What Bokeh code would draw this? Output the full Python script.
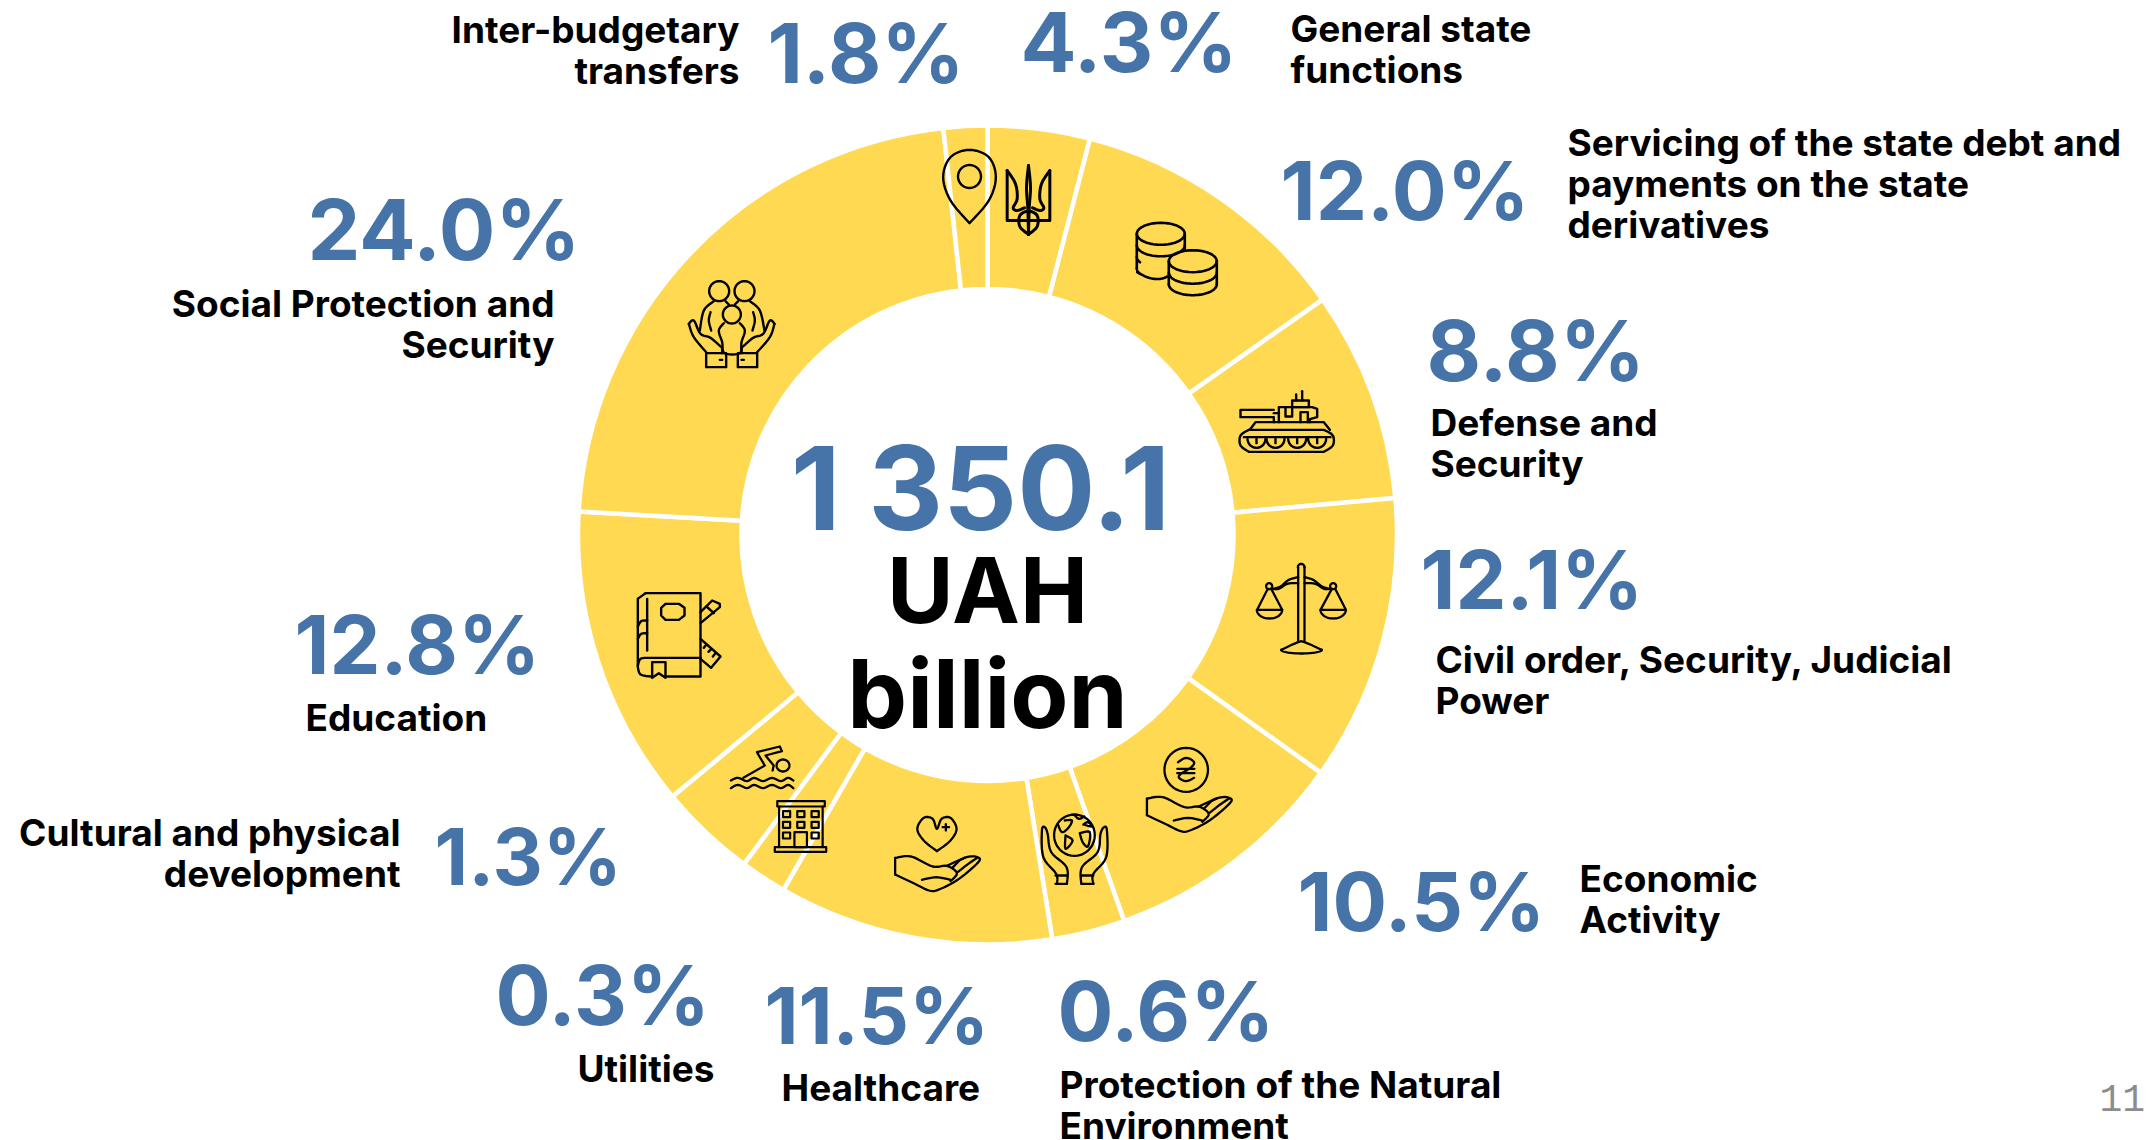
import math
from bokeh.plotting import figure
from bokeh.models import Range1d, ColumnDataSource
from bokeh.embed import file_html
from bokeh.resources import INLINE
from bokeh.core.properties import value

# ---- data ----
categories = ["General state functions", "Servicing of the state debt and payments on the state derivatives",
              "Defense and Security", "Civil order, Security, Judicial Power", "Economic Activity",
              "Protection of the Natural Environment", "Healthcare", "Utilities",
              "Cultural and physical development", "Education", "Social Protection and Security",
              "Inter-budgetary transfers"]
pct_labels = ["4.3%", "12.0%", "8.8%", "12.1%", "10.5%", "0.6%", "11.5%", "0.3%", "1.3%", "12.8%", "24.0%", "1.8%"]
# the reference's slices are not drawn to scale: swept degrees
sweep_deg = [14.5, 40.4, 29.9, 40.7, 35.0, 10.4, 39.0, 6.6, 13.8, 43.0, 80.5, 6.2]
total_value = "1 350.1"
total_unit = ["UAH", "billion"]
page_number = "11"

BLUE = "#4673A8"
YELLOW = "#FFD952"
FONT = "Inter"
W, H = 2156, 1140
CX, CY, R_OUT, R_IN = 987.0, 534.5, 407.5, 248.0


def Y(v):
    return H - v


p = figure(width=W, height=H, output_backend="svg", toolbar_location=None,
           x_range=Range1d(0, W), y_range=Range1d(0, H), min_border=0)
p.axis.visible = False
p.grid.visible = False
p.outline_line_color = None
p.background_fill_color = "white"

# ---- donut ----
starts, ends, c = [], [], 0.0
for s in sweep_deg:
    starts.append(math.radians(90 - c))
    c += s
    ends.append(math.radians(90 - c))
src = ColumnDataSource(dict(category=categories, start=starts, end=ends, label=pct_labels))
p.annular_wedge(x=CX, y=Y(CY), inner_radius=R_IN - 2, outer_radius=R_OUT + 2, start_angle="start", end_angle="end",
                direction="clock", fill_color=YELLOW, line_color="white", line_width=4.5, source=src)

K = 0.36


# ---- texts ----
def T(s, x, y, size, color="black", align="left", font=FONT, style="bold"):
    p.text([x], [Y(y - K * size)], text=[s], text_font=value(font), text_font_size=f"{size}px", text_color=color,
           text_align=align, text_baseline="alphabetic", text_font_style=style)


LS = 37
pct_sizes = [83, 81.5, 84, 81, 81, 83, 79, 82, 78, 81, 84, 82]
pct_pos = [(1020, 71), (1280, 219), (1426, 380), (1420, 609), (1297, 931), (1057, 1040),
           (764, 1043), (495, 1025), (434, 884), (294, 674), (307, 259), (767, 83)]
for lab, (x, y), s in zip(pct_labels, pct_pos, pct_sizes):
    T(lab, x, y, s, BLUE)

left_lab = [(["General state", "functions"], 1290, 41),
            (["Servicing of the state debt and", "payments on the state", "derivatives"], 1567, 155),
            (["Defense and", "Security"], 1430, 435),
            (["Civil order, Security, Judicial", "Power"], 1435, 672),
            (["Economic", "Activity"], 1579, 891),
            (["Protection of the Natural", "Environment"], 1059, 1097),
            (["Healthcare"], 781, 1100)]
right_lab = [(["Utilities"], 714, 1081),
             (["Cultural and physical", "development"], 400, 845),
             (["Social Protection and", "Security"], 554, 316),
             (["Inter-budgetary", "transfers"], 739, 42)]
for lines, x, y in left_lab:
    for i, l in enumerate(lines):
        T(l, x, y + 41 * i, LS)
T("Education", 305, 730, LS)
for lines, x, y in right_lab:
    for i, l in enumerate(lines):
        T(l, x, y + 41.5 * i, LS, align="right")

T(total_value, 980, 529, 116, BLUE, "center")
T(total_unit[0], 987, 622, 91, "black", "center")
T(total_unit[1], 987, 727, 95, "black", "center")
T(page_number, 2099, 1111, 38, "#8c8c8c", font="Liberation Mono", style="normal")


# ---- icons: decoration outlines, in page pixels ----
def sm(pts, n=6):
    """Catmull-Rom through pts"""
    out = []
    P = [pts[0]] + list(pts) + [pts[-1]]
    for i in range(1, len(P) - 2):
        for k in range(n):
            t = k / n
            a, b, c_, d = P[i - 1], P[i], P[i + 1], P[i + 2]
            f = lambda j: 0.5 * (2 * b[j] + (c_[j] - a[j]) * t + (2 * a[j] - 5 * b[j] + 4 * c_[j] - d[j]) * t * t
                                 + (3 * b[j] - a[j] - 3 * c_[j] + d[j]) * t ** 3)
            out.append((f(0), f(1)))
    out.append(pts[-1])
    return out


def arc(cx, cy, rx, ry, a0=0, a1=360, n=40):
    return [(cx + rx * math.cos(math.radians(a0 + (a1 - a0) * i / n)),
             cy + ry * math.sin(math.radians(a0 + (a1 - a0) * i / n))) for i in range(n + 1)]


def rect(x0, y0, x1, y1):
    return [(x0, y0), (x1, y0), (x1, y1), (x0, y1), (x0, y0)]


def zoomed(ox, oy, pts, fx=3.0, fy=3.0):
    return [(ox + a / fx, oy + b / fy) for a, b in pts]


def draw(paths, w=2.4):
    p.multi_line([[a for a, _ in q] for q in paths], [[Y(b) for _, b in q] for q in paths],
                 line_color="black", line_width=w, line_join="round", line_cap="round")


# pin
z = lambda pts: zoomed(900, 120, pts)
draw([arc(969, 176, 11.5, 11.5),
      z(sm([(207, 308), (150, 240), (128, 170), (150, 110), (207, 88), (265, 110), (286, 170), (265, 240), (207, 308)]))], 2.4)
# trident
draw([z([(320, 150), (320, 300), (448, 300), (448, 150)]),
      z(sm([(320, 150), (345, 190), (350, 235), (338, 262), (350, 270), (372, 262)])),
      z(sm([(448, 150), (423, 190), (418, 235), (430, 262), (418, 270), (396, 262)])),
      z(sm([(384, 135), (378, 200), (382, 265), (384, 342)])),
      z(sm([(384, 135), (390, 200), (386, 265), (384, 342)])),
      z(sm([(384, 342), (358, 318), (358, 285), (384, 272), (410, 285), (410, 318), (384, 342)])),
      z([(358, 300), (410, 300)])], 3)
# coins
paths = []
for cx, cy, tiers, clip in [(1160.3, 233.3, 3, True), (1192.3, 260.7, 2, False)]:
    paths.append(arc(cx, cy, 24, 11))
    for i in range(1, tiers + 1):
        if clip:
            paths.append(arc(cx, cy + 11.5 * i, 24, 11, 150 if i > 1 else 0, 180))
        else:
            paths.append(arc(cx, cy + 11.5 * i, 24, 11, 0, 180))
    if clip:
        paths.append([(cx - 24, cy), (cx - 24, cy + 34.5)])
        paths.append([(cx + 24, cy), (cx + 24, cy + 15)])
    else:
        paths.append([(cx - 24, cy), (cx - 24, cy + 23)])
        paths.append([(cx + 24, cy), (cx + 24, cy + 23)])
paths.append(zoomed(900, 120, sm([(808, 465), (780, 475), (745, 472), (710, 455)])))
draw(paths, 2.6)
# tank
z = lambda pts: zoomed(900, 120, pts)
paths = [z(sm([(1045, 928), (1020, 945), (1020, 975), (1045, 994)], 4) + [(1045, 994), (1270, 994)] +
           sm([(1270, 994), (1297, 975), (1297, 945), (1270, 928)], 4) + [(1045, 928)]),
         z([(1048, 928), (1065, 905), (1270, 905), (1288, 928)]), z([(1030, 950), (1290, 950)]),
         z([(1135, 905), (1135, 860), (1235, 860), (1250, 865), (1250, 890), (1228, 896), (1228, 905)]),
         z([(1120, 868), (1020, 868), (1020, 890), (1120, 890), (1120, 905)]),
         z([(1120, 878), (1135, 878)]),
         z(rect(1175, 840, 1225, 860)), z([(1205, 812), (1205, 840)]), z([(1187, 822), (1187, 840)]),
         z([(1155, 862), (1155, 888), (1175, 888), (1175, 862)]),
         z([(1200, 905), (1200, 875), (1222, 875), (1222, 905)])]
for wx in [1068, 1125, 1190, 1250]:
    paths.append(z([(wx + 27 * math.cos(math.radians(a)), 955 + 27 * math.sin(math.radians(a))) for a in range(0, 181, 15)]))
    paths.append(z([(wx, 955), (wx, 968)]))
draw(paths, 2.4)
# family
z = lambda pts: zoomed(660, 260, pts)
draw([z(arc(176, 92, 30, 30)), z(arc(252, 92, 30, 30)), z(arc(214, 162, 27, 27)),
      z(sm([(160, 122), (130, 150), (118, 210)])), z(sm([(268, 122), (298, 150), (312, 210)])),
      z(sm([(195, 122), (205, 132)])), z(sm([(233, 122), (223, 132)])),
      z(sm([(150, 155), (145, 180), (152, 210)])), z(sm([(278, 155), (283, 180), (276, 210)])),
      z(sm([(190, 188), (175, 210), (185, 245), (192, 278), (238, 278), (243, 245), (253, 210), (238, 188)])),
      z(sm([(85, 190), (100, 180), (120, 220), (150, 232), (185, 262)]) + [(185, 278)]),
      z(sm([(85, 190), (100, 230), (137, 275)])),
      z(sm([(342, 190), (328, 180), (308, 220), (278, 232), (243, 262)]) + [(243, 278)]),
      z(sm([(342, 190), (328, 230), (290, 275)])),
      z(rect(137, 278, 197, 320)), z(rect(232, 278, 290, 320)),
      z([(178, 298), (185, 298)]), z([(243, 298), (250, 298)])], 2.4)
# book
z = lambda pts: zoomed(620, 570, pts)
draw([z(sm([(75, 68), (52, 85)], 3) + [(52, 85), (52, 290)] + sm([(52, 290), (60, 312), (92, 318)], 4)),
      z([(75, 68), (240, 68), (240, 318), (135, 318)]),
      z(sm([(52, 285), (60, 265), (85, 262)], 4) + [(85, 262), (240, 262)]),
      z([(80, 85), (80, 240)]),
      z(sm([(52, 168), (62, 152), (80, 150)], 4)), z(sm([(52, 205), (62, 190), (80, 188)], 4)),
      z([(135, 100), (175, 100), (192, 112), (192, 135), (175, 148), (135, 148), (122, 135), (122, 112), (135, 100)]),
      z([(95, 275), (135, 275), (135, 322), (115, 308), (95, 322), (95, 275)]),
      z([(240, 125), (275, 90), (298, 100), (298, 110), (240, 158)]),
      z([(258, 108), (280, 128)]),
      z([(240, 205), (300, 258), (272, 292), (240, 265)]),
      z([(258, 222), (250, 232)]), z([(272, 236), (264, 244)]), z([(285, 248), (277, 258)])], 2.4)
# swimmer (this crop was read at 2.8x across, 3x down)
z = lambda pts: zoomed(700, 720, pts, 2.8, 3.0)
draw([z(arc(231, 135, 18, 18)),
      z([(120, 172), (180, 135), (158, 95), (222, 78), (228, 92), (182, 105), (205, 135), (202, 150)]),
      z(sm([(85, 180), (105, 172), (130, 182), (150, 172), (175, 182), (200, 172), (225, 182), (245, 172), (260, 180)])),
      z(sm([(85, 203), (105, 193), (130, 203), (150, 193), (175, 203), (200, 193), (225, 203), (245, 193), (260, 203)]))], 2.3)
# building
paths = [z(rect(215, 242, 348, 258)), z(rect(208, 380, 352, 394)), z([(220, 258), (220, 380)]), z([(342, 258), (342, 380)]),
         z(rect(263, 335, 298, 380))]
for wx in (231, 271, 311):
    for wy in (272, 304):
        paths.append(z(rect(wx, wy, wx + 20, wy + 18)))
paths += [z(rect(231, 336, 251, 354)), z(rect(311, 336, 331, 354))]
draw(paths, 2.2)


# hand shared by two icons
def hand(dx, dy):
    zz = lambda pts: [(a + dx, b + dy) for a, b in z(pts)]
    return [zz(sm([(545, 412), (590, 408), (650, 438), (690, 436), (718, 458), (700, 482)])),
            zz([(545, 412), (545, 462)]),
            zz(sm([(545, 462), (600, 490), (640, 510), (665, 508), (720, 478), (778, 425), (775, 410), (745, 410), (690, 436)])),
            zz(sm([(620, 478), (660, 470), (700, 478)], 4)),
            zz([(705, 442), (725, 420), (740, 412)]),
            zz(sm([(720, 455), (750, 430), (775, 412)], 4))]


# heart + hand
draw(hand(0, 0) + [z(sm([(662, 392), (625, 360), (607, 325), (625, 292), (650, 295), (662, 325), (675, 295), (700, 292),
                         (717, 325), (700, 360), (662, 392)])),
                   z([(678, 320), (696, 320)]), z([(687, 311), (687, 330)])], 2.3)
# hryvnia + hand
draw(hand(251.8, -59.3) + [z(arc(1360, 148, 61, 66)),
                           z(sm([(1337, 125), (1360, 112), (1382, 125), (1372, 142), (1345, 160), (1340, 172), (1360, 182), (1382, 172)])),
                           z([(1335, 145), (1383, 145)]), z([(1335, 158), (1383, 158)])], 2.3)
# globe in hands
draw([z(arc(1047, 344, 57, 62)),
      z(sm([(1000, 310), (1012, 335), (1030, 322), (1040, 300), (1020, 300)])),
      z(sm([(1022, 345), (1022, 385), (1042, 360), (1022, 345)], 4)),
      z(sm([(1062, 338), (1090, 335), (1085, 378), (1070, 365), (1062, 338)], 4)),
      z(sm([(1048, 285), (1060, 295), (1075, 288)], 4)), z(sm([(1072, 312), (1095, 318), (1085, 305), (1072, 312)], 4)),
      z(sm([(998, 490), (996, 460), (960, 410), (956, 330), (964, 320), (972, 340), (982, 395), (1025, 440), (1026, 490)])),
      z(sm([(1100, 490), (1100, 460), (1136, 410), (1138, 330), (1130, 320), (1120, 340), (1112, 395), (1068, 440), (1066, 490)])),
      z([(994, 465), (1026, 465)]), z([(994, 490), (1026, 490)]), z([(1068, 465), (1100, 465)]), z([(1068, 490), (1100, 490)])], 2.3)
# scales
z = lambda pts: zoomed(1130, 520, pts)
draw([z([(503, 360), (503, 140)]), z([(522, 360), (522, 140)]), z(arc(512, 140, 10, 10, 180, 360, 10)),
      z(sm([(503, 170), (475, 178), (450, 198), (425, 205)], 5)), z(sm([(522, 170), (548, 178), (575, 198), (600, 205)], 5)),
      z(sm([(503, 188), (470, 190), (445, 205), (425, 205)], 5)), z(sm([(522, 188), (555, 190), (580, 205), (600, 205)], 5)),
      z(arc(416, 197, 9, 9)), z(arc(608, 197, 9, 9)),
      z([(412, 205), (380, 268), (455, 268), (422, 205)]), z([(604, 205), (570, 268), (646, 268), (614, 205)]),
      z(arc(417, 268, 38, 26, 0, 180)), z(arc(608, 268, 38, 26, 0, 180)),
      z(sm([(452, 388), (503, 365), (522, 365), (574, 388)], 5)), z(arc(513, 388, 61, 11, 0, 180))], 2.3)

open("out.html", "w").write(file_html(p, INLINE))
